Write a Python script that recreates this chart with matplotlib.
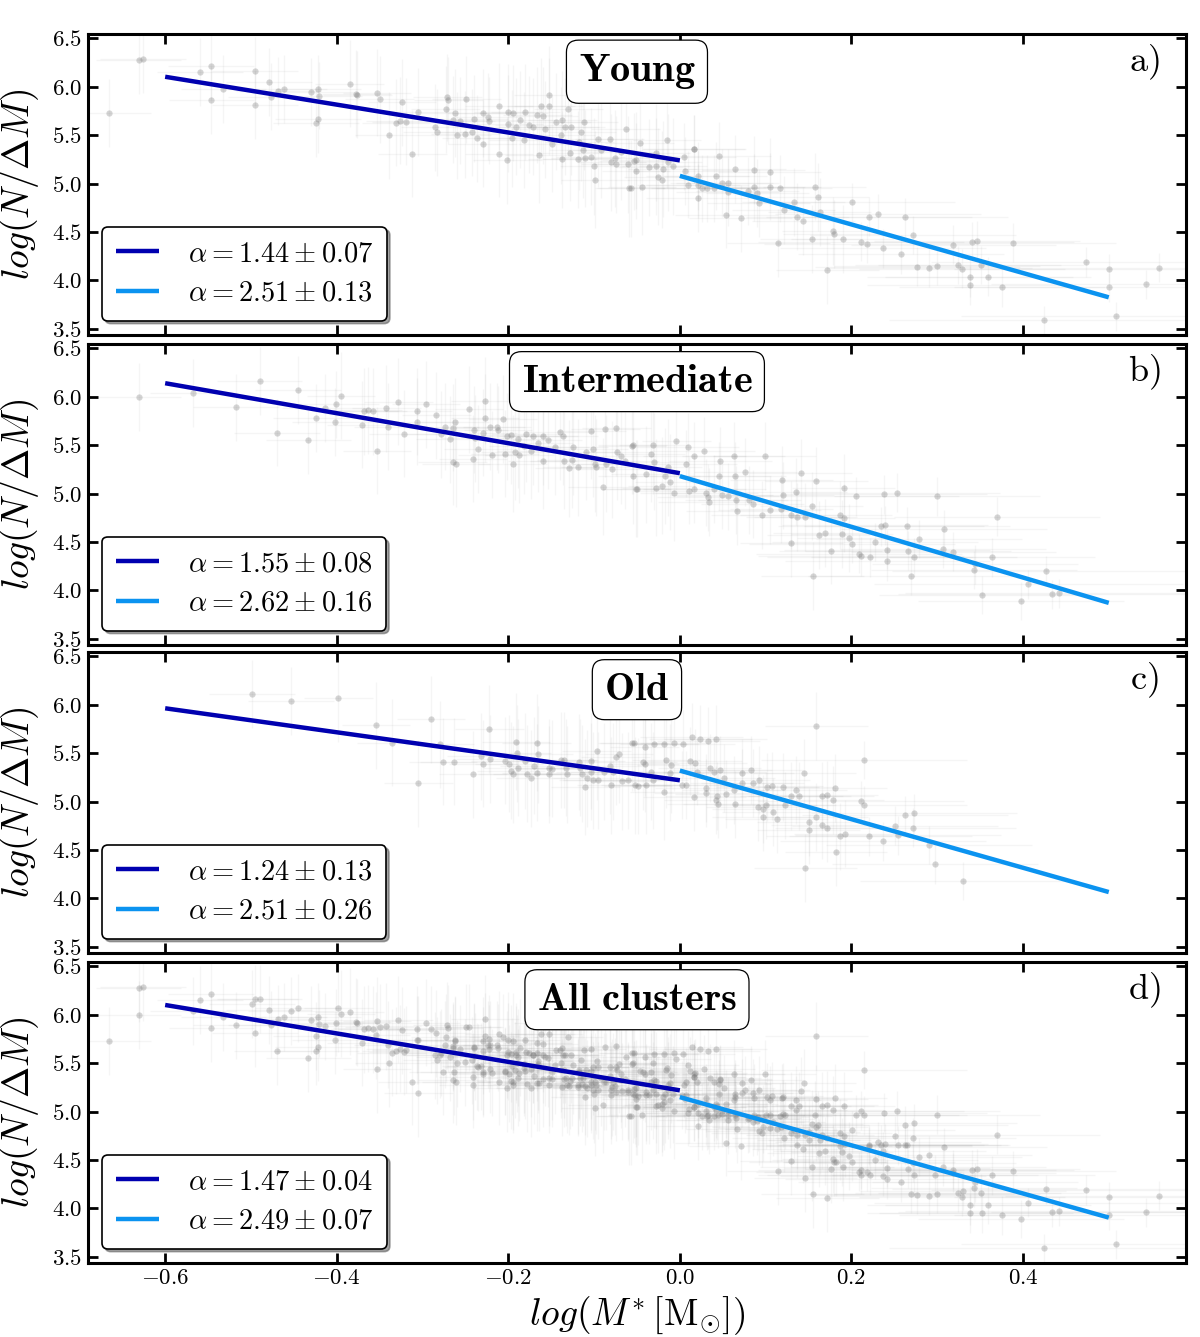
import matplotlib
matplotlib.use('Agg')
import matplotlib.pyplot as plt
import matplotlib.ticker as mticker
import numpy as np

plt.rcParams['mathtext.fontset'] = 'cm'
plt.rcParams['font.family'] = ['cmr10', 'DejaVu Serif']
plt.rcParams['axes.unicode_minus'] = False

# ---- data ----------------------------------------------------------------
young_x = [-0.666, -0.631, -0.626, -0.559, -0.547, -0.546, -0.532, -0.495, -0.495, -0.479,
           -0.477, -0.468, -0.461, -0.430, -0.422, -0.421, -0.424, -0.422, -0.385, -0.377,
           -0.376, -0.353, -0.350, -0.339, -0.331, -0.326, -0.324, -0.319, -0.312, -0.305,
           -0.285, -0.283, -0.273, -0.271, -0.270, -0.264, -0.262, -0.260, -0.256, -0.249,
           -0.250, -0.242, -0.240, -0.237, -0.230, -0.230, -0.224, -0.222, -0.211, -0.211,
           -0.201, -0.200, -0.194, -0.200, -0.196, -0.191, -0.186, -0.180, -0.182, -0.176,
           -0.171, -0.166, -0.164, -0.162, -0.159, -0.157, -0.153, -0.153, -0.149, -0.144,
           -0.139, -0.137, -0.137, -0.134, -0.130, -0.127, -0.128, -0.119, -0.117, -0.115,
           -0.112, -0.113, -0.110, -0.104, -0.100, -0.099, -0.095, -0.092, -0.082, -0.080,
           -0.076, -0.075, -0.069, -0.063, -0.060, -0.059, -0.054,
           -0.047, -0.051, -0.051, -0.057, -0.044, -0.036, -0.028, -0.028, -0.025, -0.021,
           -0.020, -0.015, -0.014, -0.008, 0.005, 0.006, 0.010, 0.016, 0.017, 0.021,
           0.021, 0.021, 0.026, 0.032, 0.040, 0.042, 0.046, 0.049, 0.054, 0.056,
           0.056, 0.064, 0.071, 0.079, 0.086, 0.086, 0.090, 0.092, 0.105, 0.105,
           0.115, 0.117, 0.121, 0.133, 0.137, 0.144, 0.154, 0.157, 0.161, 0.163,
           0.172, 0.179, 0.180, 0.190, 0.201, 0.211, 0.218, 0.220, 0.231, 0.237,
           0.258, 0.263, 0.272, 0.277, 0.291, 0.300, 0.319, 0.324, 0.329, 0.338,
           0.338, 0.340, 0.346, 0.351, 0.359, 0.376, 0.388, 0.424, 0.473, 0.500,
           0.500, 0.508, 0.543, 0.559]
young_y = [5.73, 6.28, 6.29, 6.15, 6.22, 5.86, 5.98, 6.16, 5.81, 6.05,
           5.90, 5.96, 5.98, 5.95, 5.98, 5.91, 5.63, 5.67, 6.03, 5.93,
           5.92, 5.94, 5.87, 5.50, 5.63, 5.65, 5.84, 5.64, 5.31, 5.74,
           5.58, 5.53, 5.77, 5.89, 5.86, 5.66, 5.73, 5.50, 5.65, 5.87,
           5.51, 5.53, 5.67, 5.47, 5.73, 5.41, 5.69, 5.65, 5.80, 5.31,
           5.24, 5.74, 5.73, 5.62, 5.47, 5.59, 5.66, 5.74, 5.45, 5.61,
           5.59, 5.71, 5.30, 5.80, 5.70, 5.56, 5.80, 5.92, 5.41, 5.64,
           5.50, 5.66, 5.25, 5.59, 5.77, 5.59, 5.32, 5.25, 5.43, 5.53,
           5.64, 5.35, 5.26, 5.28, 5.18, 5.04, 5.46, 5.35, 5.46, 5.22,
           5.26, 5.20, 5.33, 5.56, 5.20, 4.95, 5.23,
           5.42, 5.24, 5.13, 4.95, 4.97, 5.17, 5.18, 5.32, 5.07, 5.04,
           5.15, 5.45, 5.22, 5.18, 5.28, 5.13, 4.99, 5.36, 5.36, 5.08,
           4.99, 4.85, 4.95, 4.95, 4.95, 5.08, 5.29, 5.01, 4.68, 5.01,
           4.91, 5.15, 4.64, 4.92, 5.14, 4.96, 4.90, 4.80, 5.12, 4.97,
           4.39, 4.95, 4.73, 4.81, 4.66, 4.61, 4.43, 4.97, 4.86, 4.71,
           4.11, 4.51, 4.48, 4.43, 4.81, 4.40, 4.38, 4.66, 4.69, 4.33,
           4.27, 4.65, 4.47, 4.14, 4.13, 4.15, 4.37, 4.16, 4.12, 3.95,
           4.03, 4.40, 4.41, 4.16, 4.04, 3.93, 4.39, 3.59, 4.19, 4.12,
           3.93, 3.63, 3.96, 4.13]

inter_x = [-0.631, -0.568, -0.517, -0.490, -0.470, -0.445, -0.433, -0.424, -0.414, -0.402,
           -0.401, -0.395, -0.371, -0.368, -0.364, -0.358, -0.353, -0.342, -0.340, -0.328,
           -0.322, -0.306, -0.306, -0.296, -0.284, -0.278, -0.274, -0.268, -0.265, -0.265,
           -0.261, -0.262, -0.246, -0.241, -0.240, -0.239, -0.235, -0.230, -0.227, -0.227,
           -0.221, -0.219, -0.213, -0.212, -0.206, -0.204, -0.202, -0.195, -0.197, -0.192,
           -0.189, -0.187, -0.182, -0.179, -0.173, -0.171, -0.165, -0.160, -0.159, -0.154,
           -0.146, -0.140, -0.136, -0.135, -0.129, -0.126, -0.124, -0.119, -0.109, -0.103,
           -0.101, -0.099, -0.098, -0.090, -0.087, -0.086, -0.079, -0.074, -0.073, -0.069,
           -0.064, -0.056, -0.055, -0.051,
           -0.055, -0.031, -0.034, -0.030, -0.050, -0.040, -0.028, -0.021, -0.017, -0.014,
           -0.012, -0.007, -0.004, 0.007, 0.009, 0.011, 0.017, 0.017, 0.028, 0.031,
           0.033, 0.034, 0.040, 0.047, 0.046, 0.049, 0.056, 0.063, 0.064, 0.066,
           0.067, 0.076, 0.081, 0.085, 0.096, 0.099, 0.105, 0.118, 0.119, 0.120,
           0.130, 0.130, 0.135, 0.137, 0.141, 0.146, 0.154, 0.155, 0.159, 0.162,
           0.169, 0.176, 0.187, 0.189, 0.191, 0.191, 0.197, 0.201, 0.205, 0.209,
           0.211, 0.222, 0.227, 0.234, 0.238, 0.239, 0.241, 0.242, 0.253, 0.265,
           0.266, 0.269, 0.273, 0.279, 0.300, 0.307, 0.308, 0.319, 0.343, 0.344,
           0.352, 0.364, 0.370, 0.398, 0.406, 0.427, 0.434, 0.442]
inter_y = [6.00, 6.04, 5.89, 6.16, 5.63, 6.07, 5.55, 5.78, 5.88, 5.74,
           5.92, 6.01, 5.71, 5.85, 5.86, 5.85, 5.44, 5.88, 5.69, 5.95,
           5.62, 5.85, 5.74, 5.92, 5.81, 5.61, 5.69, 5.56, 5.68, 5.33,
           5.31, 5.74, 5.87, 5.36, 5.66, 5.57, 5.46, 5.63, 5.96, 5.78,
           5.69, 5.40, 5.69, 5.66, 5.77, 5.41, 5.59, 5.31, 5.60, 5.43,
           5.56, 5.40, 5.49, 5.62, 5.44, 5.59, 5.52, 5.34, 5.59, 5.55,
           5.48, 5.64, 5.59, 5.34, 5.26, 5.35, 5.48, 5.27, 5.43, 5.65,
           5.46, 5.31, 5.27, 5.07, 5.67, 5.31, 5.25, 5.68, 5.43, 5.39,
           5.34, 5.49, 5.18, 5.05,
           5.50, 5.50, 5.41, 5.33, 5.05, 5.20, 5.06, 5.08, 5.18, 5.27,
           5.12, 5.01, 5.54, 5.31, 5.48, 5.03, 5.39, 5.05, 5.44, 5.01,
           4.96, 4.91, 5.05, 5.34, 5.18, 4.98, 4.97, 5.39, 5.18, 4.93,
           4.82, 5.22, 4.93, 4.89, 4.78, 5.39, 4.83, 4.84, 5.14, 4.98,
           4.78, 4.49, 5.02, 4.76, 5.21, 4.76, 4.87, 4.15, 5.13, 4.57,
           4.59, 4.41, 4.78, 4.58, 4.75, 5.06, 4.54, 4.48, 4.97, 4.38,
           4.35, 4.34, 4.50, 4.66, 4.99, 4.67, 4.42, 4.30, 5.01, 4.66,
           4.41, 4.15, 4.34, 4.53, 4.97, 4.43, 4.63, 4.40, 4.21, 4.27,
           3.95, 4.34, 4.76, 3.89, 4.06, 4.20, 3.96, 3.97]

old_x = [-0.499, -0.453, -0.398, -0.354, -0.336, -0.305, -0.290, -0.280, -0.276, -0.263,
         -0.241, -0.232, -0.229, -0.222, -0.221, -0.204, -0.199, -0.197, -0.195, -0.191,
         -0.190, -0.189, -0.180, -0.178, -0.174, -0.170, -0.167, -0.167, -0.165, -0.153,
         -0.153, -0.149, -0.138, -0.135, -0.133, -0.131, -0.118, -0.116, -0.114, -0.110,
         -0.108, -0.104, -0.104, -0.101, -0.097, -0.096, -0.088, -0.081, -0.080, -0.078,
         -0.075, -0.071, -0.068, -0.061, -0.056, -0.052,
         -0.053, -0.041, -0.030, -0.018, -0.007, 0.004, 0.014, 0.024, 0.033, 0.042,
         -0.043, -0.041, -0.016, -0.010, -0.049, -0.040, -0.031, -0.018, -0.012, -0.034,
         0.002, 0.007, 0.012, 0.018, 0.020, 0.017, 0.031, 0.030, 0.035, 0.040,
         0.042, 0.043, 0.045, 0.047, 0.051, 0.054, 0.063, 0.064, 0.073, 0.072,
         0.083, 0.085, 0.091, 0.092, 0.097, 0.097, 0.100, 0.102, 0.107, 0.109,
         0.113, 0.120, 0.122, 0.130, 0.135, 0.139, 0.145, 0.146, 0.150, 0.150,
         0.159, 0.159, 0.166, 0.166, 0.171, 0.171, 0.178, 0.181, 0.182, 0.187,
         0.193, 0.211, 0.215, 0.215, 0.220, 0.237, 0.251, 0.254, 0.262, 0.272,
         0.273, 0.290, 0.297, 0.330]
old_y = [6.11, 6.04, 6.07, 5.79, 5.61, 5.19, 5.85, 5.59, 5.41, 5.41,
         5.28, 5.47, 5.39, 5.75, 5.44, 5.42, 5.39, 5.32, 5.28, 5.62,
         5.50, 5.35, 5.42, 5.29, 5.24, 5.37, 5.61, 5.30, 5.49, 5.35,
         5.28, 5.34, 5.43, 5.43, 5.35, 5.28, 5.41, 5.35, 5.29, 5.15,
         5.24, 5.31, 5.42, 5.22, 5.52, 5.22, 5.31, 5.37, 5.17, 5.31,
         5.46, 5.49, 5.21, 5.22, 5.61, 5.17,
         5.61, 5.56, 5.60, 5.60, 5.61, 5.60, 5.67, 5.65, 5.63, 5.65,
         5.41, 5.39, 5.43, 5.38, 5.16, 5.17, 5.22, 5.10, 5.30, 5.31,
         5.17, 5.17, 5.42, 5.40, 5.31, 5.05, 5.14, 5.09, 5.35, 5.31,
         5.02, 5.06, 4.97, 5.33, 5.24, 5.08, 5.12, 4.97, 5.30, 5.19,
         5.33, 5.19, 4.94, 5.22, 4.92, 4.84, 4.96, 5.15, 5.16, 4.89,
         4.82, 5.15, 4.96, 5.06, 5.12, 5.06, 5.30, 4.31, 4.79, 4.71,
         4.84, 5.78, 5.06, 4.76, 5.07, 4.73, 5.02, 5.14, 4.48, 4.64,
         4.67, 5.01, 5.43, 4.96, 4.64, 4.59, 4.75, 4.65, 4.86, 4.73,
         4.88, 4.55, 4.35, 4.18]

# typical error bar sizes per mass bin (log M)
err_bin_edges = [-0.4, -0.2, 0.0, 0.2, 0.4]
xerr_per_bin = [0.05, 0.04, 0.04, 0.06, 0.12, 0.18]
yerr_per_bin = [0.35, 0.45, 0.50, 0.35, 0.20, 0.15]

panel_titles = ['Young', 'Intermediate', 'Old', 'All clusters']
panel_tags = ['a)', 'b)', 'c)', 'd)']
alpha_low = [1.44, 1.55, 1.24, 1.47]
alpha_low_err = [0.07, 0.08, 0.13, 0.04]
alpha_high = [2.51, 2.62, 2.51, 2.49]
alpha_high_err = [0.13, 0.16, 0.26, 0.07]
icpt_low = [5.24, 5.21, 5.22, 5.22]
icpt_high = [5.08, 5.18, 5.32, 5.15]
low_range = (-0.6, 0.0)
high_range = (0.0, 0.5)

panel_x = [young_x, inter_x, old_x, young_x + inter_x + old_x]
panel_y = [young_y, inter_y, old_y, young_y + inter_y + old_y]

# ---- figure --------------------------------------------------------------
fig = plt.figure(figsize=(12, 13.37), dpi=100)
bottoms = [0.7494, 0.5176, 0.2872, 0.0553]
height = 0.2251
axes = []
for i in range(4):
    ax = fig.add_axes([0.0733, bottoms[i], 0.915, height])
    axes.append(ax)

fmt = mticker.FuncFormatter(lambda v, p: r'$%.1f$' % v)

for i, ax in enumerate(axes):
    x = np.array(panel_x[i])
    y = np.array(panel_y[i])
    idx = np.digitize(x, err_bin_edges)
    xerr = np.array(xerr_per_bin)[idx]
    yerr = np.array(yerr_per_bin)[idx]

    ax.errorbar(x, y, xerr=xerr, yerr=yerr, fmt='none', ecolor='0.55',
                elinewidth=1.0, alpha=0.08, zorder=1)
    ax.plot(x, y, 'o', color='0.45', markersize=4.5, markeredgewidth=0,
            alpha=0.3, zorder=2)

    xl = np.array(low_range)
    xh = np.array(high_range)
    ax.plot(xl, icpt_low[i] - alpha_low[i] * xl, color='#0000b0', lw=3.2,
            solid_capstyle='butt', zorder=4,
            label=r'$\alpha = %.2f \pm %.2f$' % (alpha_low[i], alpha_low_err[i]))
    ax.plot(xh, icpt_high[i] - alpha_high[i] * xh, color='#0b93f0', lw=3.2,
            solid_capstyle='butt', zorder=4,
            label=r'$\alpha = %.2f \pm %.2f$' % (alpha_high[i], alpha_high_err[i]))

    ax.set_xlim(-0.69, 0.59)
    ax.set_ylim(3.435, 6.545)
    ax.set_yticks([3.5, 4.0, 4.5, 5.0, 5.5, 6.0, 6.5])
    ax.set_xticks([-0.6, -0.4, -0.2, 0.0, 0.2, 0.4])
    ax.yaxis.set_major_formatter(fmt)
    ax.xaxis.set_major_formatter(fmt)
    ax.tick_params(direction='in', top=True, right=True, length=7, width=2,
                   labelsize=16.5, pad=4)
    if i < 3:
        ax.tick_params(labelbottom=False)
    for s in ax.spines.values():
        s.set_linewidth(2.2)

    ax.set_ylabel(r'$log(N/\Delta M)$', fontsize=27, labelpad=8)

    ax.text(0.5, 0.875, r'$\mathbf{%s}$' % panel_titles[i].replace(' ', r'\ '),
            transform=ax.transAxes, ha='center', va='center', fontsize=29,
            bbox=dict(boxstyle='round,pad=0.3', fc='white', ec='black', lw=0.9),
            zorder=6)
    ax.text(0.962, 0.905, r'$\mathrm{%s}$' % panel_tags[i], transform=ax.transAxes,
            ha='center', va='center', fontsize=26, zorder=6)

    leg = ax.legend(loc='lower left', fontsize=20.5, frameon=True, fancybox=True,
                    shadow=True, framealpha=1, edgecolor='black',
                    handlelength=1.5, handletextpad=1.0, labelspacing=0.45,
                    borderaxespad=0.5, borderpad=0.5)
    leg.get_frame().set_linewidth(1.2)
    leg.set_zorder(7)

axes[3].set_xlabel(r'$log(M^{*}\,[\mathrm{M}_{\odot}])$', fontsize=27, labelpad=4)

fig.savefig('out.png', dpi=100)
